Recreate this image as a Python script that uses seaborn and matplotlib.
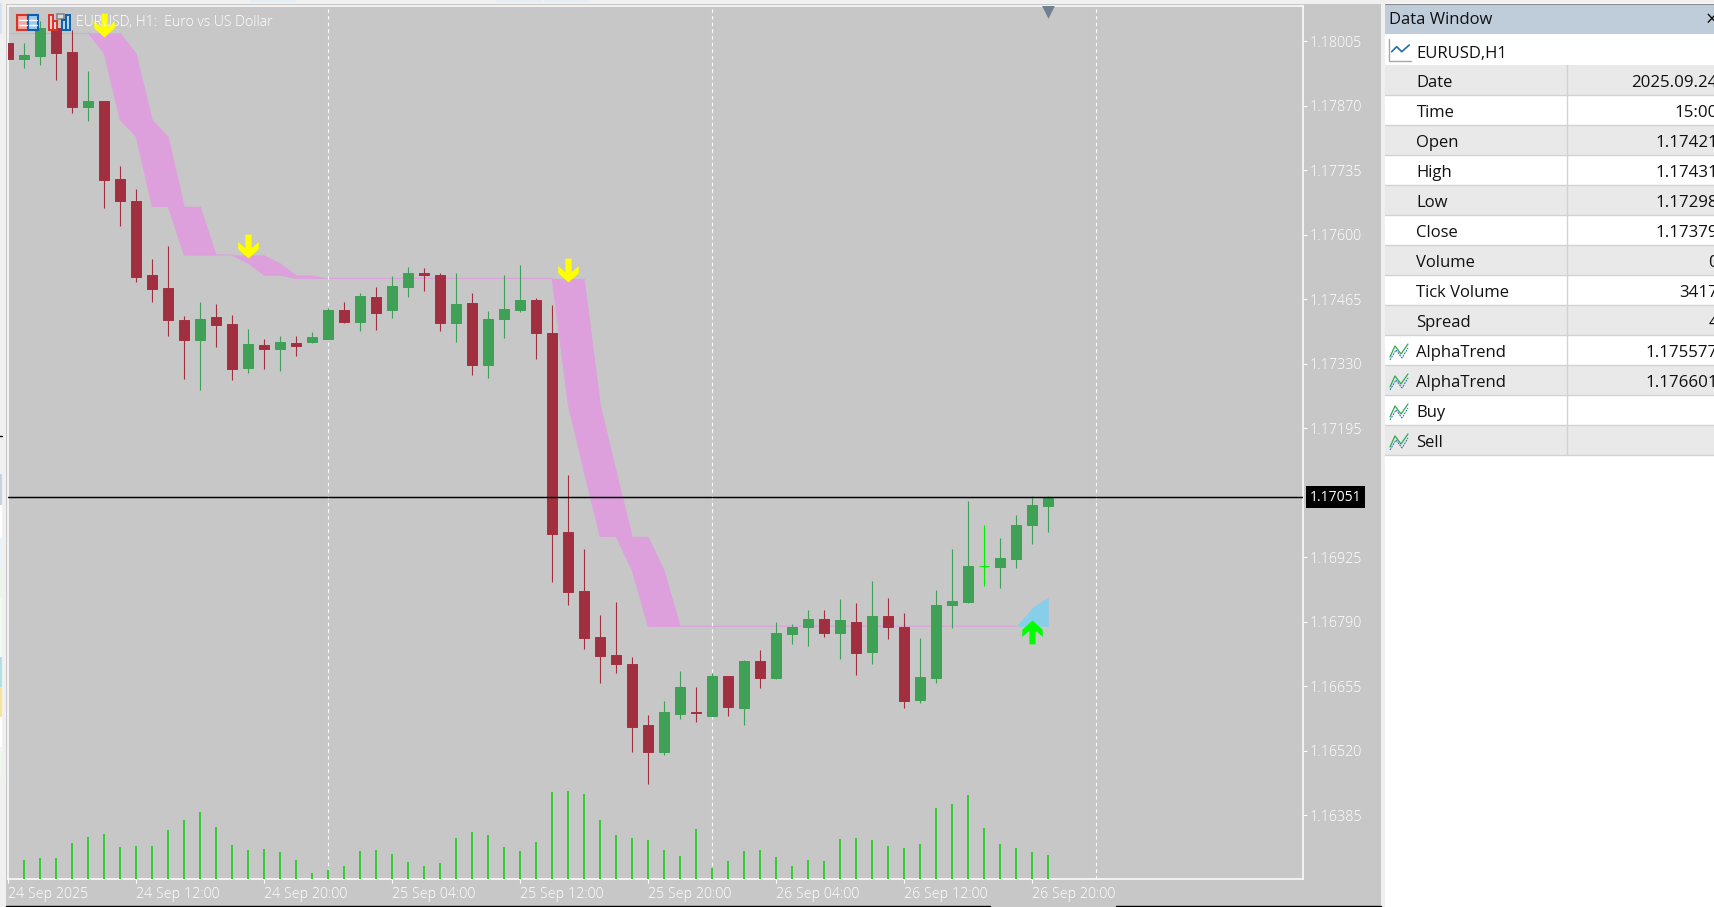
import matplotlib
matplotlib.use("Agg")
import numpy as np
import pandas as pd
import seaborn as sns
import matplotlib.pyplot as plt
from matplotlib.path import Path
from matplotlib.patches import Rectangle

# EURUSD H1 chart, bars from 24 Sep 04:00 to 26 Sep 21:00
open_prices = [1.18002, 1.17968, 1.17975, 1.18033, 1.17983, 1.17868, 1.17881, 1.17717, 1.17671, 1.17516,
               1.17489, 1.17421, 1.17380, 1.17428, 1.17414, 1.17322, 1.17370, 1.17362, 1.17374, 1.17376,
               1.17382, 1.17443, 1.17418, 1.17470, 1.17443, 1.17491, 1.17521, 1.17516, 1.17416, 1.17458,
               1.17328, 1.17424, 1.17443, 1.17464, 1.17395, 1.16978, 1.16855, 1.16758, 1.16721, 1.16702,
               1.16574, 1.16518, 1.16597, 1.16601, 1.16593, 1.16677, 1.16610, 1.16708, 1.16673, 1.16765,
               1.16779, 1.16796, 1.16767, 1.16790, 1.16727, 1.16802, 1.16779, 1.16627, 1.16673, 1.16825,
               1.16831, 1.16906, 1.16905, 1.16922, 1.16993, 1.17033]
high_prices = [1.18002, 1.18002, 1.18048, 1.18050, 1.18029, 1.17943, 1.17881, 1.17745, 1.17696, 1.17550,
               1.17577, 1.17431, 1.17460, 1.17456, 1.17433, 1.17403, 1.17382, 1.17389, 1.17389, 1.17397,
               1.17447, 1.17460, 1.17479, 1.17491, 1.17514, 1.17533, 1.17531, 1.17521, 1.17521, 1.17479,
               1.17441, 1.17516, 1.17537, 1.17468, 1.17453, 1.17097, 1.16943, 1.16805, 1.16832, 1.16716,
               1.16595, 1.16624, 1.16687, 1.16653, 1.16683, 1.16677, 1.16710, 1.16731, 1.16790, 1.16786,
               1.16815, 1.16815, 1.16838, 1.16830, 1.16875, 1.16840, 1.16809, 1.16757, 1.16857, 1.16943,
               1.17043, 1.16993, 1.16966, 1.17014, 1.17053, 1.17053]
low_prices = [1.17968, 1.17950, 1.17956, 1.17925, 1.17855, 1.17839, 1.17657, 1.17619, 1.17502, 1.17460,
              1.17389, 1.17298, 1.17276, 1.17366, 1.17297, 1.17311, 1.17320, 1.17315, 1.17347, 1.17374,
              1.17382, 1.17416, 1.17399, 1.17401, 1.17426, 1.17470, 1.17483, 1.17399, 1.17376, 1.17307,
              1.17301, 1.17385, 1.17439, 1.17341, 1.16873, 1.16825, 1.16734, 1.16663, 1.16683, 1.16518,
              1.16451, 1.16512, 1.16587, 1.16580, 1.16593, 1.16593, 1.16574, 1.16652, 1.16671, 1.16744,
              1.16739, 1.16758, 1.16712, 1.16679, 1.16702, 1.16754, 1.16610, 1.16621, 1.16663, 1.16778,
              1.16830, 1.16866, 1.16861, 1.16903, 1.16953, 1.16978]
close_prices = [1.17968, 1.17977, 1.18033, 1.17981, 1.17868, 1.17881, 1.17715, 1.17671, 1.17512, 1.17487,
                1.17422, 1.17379, 1.17424, 1.17412, 1.17320, 1.17372, 1.17362, 1.17376, 1.17368, 1.17387,
                1.17443, 1.17418, 1.17472, 1.17437, 1.17493, 1.17521, 1.17516, 1.17416, 1.17456, 1.17328,
                1.17424, 1.17445, 1.17464, 1.17395, 1.16974, 1.16852, 1.16757, 1.16719, 1.16702, 1.16570,
                1.16518, 1.16601, 1.16653, 1.16600, 1.16677, 1.16612, 1.16708, 1.16673, 1.16767, 1.16779,
                1.16796, 1.16767, 1.16794, 1.16725, 1.16802, 1.16779, 1.16624, 1.16675, 1.16825, 1.16834,
                1.16907, 1.16906, 1.16924, 1.16993, 1.17035, 1.17051]
tick_volume = [1100, 1216, 1216, 2085, 2432, 2606, 1853, 1911, 1911, 2837, 3417, 3879, 3011, 1969, 1679, 1737,
               1563, 1100, 347, 521, 753, 1621, 1679, 1448, 984, 753, 926, 2374, 2721, 2548, 1853, 1621,
               2142, 5037, 5095, 4922, 3417, 2548, 2374, 2258, 1679, 1332, 2895, 637, 1042, 1621, 1679, 1274,
               753, 1100, 1042, 2316, 2374, 2258, 1911, 1795, 2027, 4111, 4343, 4864, 2953, 2027, 1795, 1563,
               1390]
alpha_fast = [1.18023] * 6 + [1.17980, 1.17841, 1.17806, 1.17660, 1.17660, 1.17558, 1.17558, 1.17558, 1.17558,
               1.17541, 1.17516, 1.17516] + [1.17509] * 17 + [1.17246, 1.17105, 1.16969, 1.16969, 1.16898] \
               + [1.16781] * 24 + [1.16820, 1.16842]
alpha_slow = [1.18023] * 8 + [1.17980, 1.17841, 1.17806, 1.17660, 1.17660, 1.17558, 1.17558, 1.17558, 1.17558,
               1.17541, 1.17516, 1.17516] + [1.17509] * 17 + [1.17246, 1.17105, 1.16969, 1.16969, 1.16898] \
               + [1.16781] * 24
sell_bars = [6, 15, 35]
sell_prices = [1.18014, 1.17551, 1.17502]
buy_bars = [64]
buy_prices = [1.16794]
grid_bars = [20, 44, 68]
price_ticks = [1.16385, 1.16520, 1.16655, 1.16790, 1.16925, 1.17195, 1.17330, 1.17465, 1.17600, 1.17735, 1.17870, 1.18005]
time_ticks = [0, 8, 16, 24, 32, 40, 48, 56, 64]
time_labels = ["24 Sep 2025", "24 Sep 12:00", "24 Sep 20:00", "25 Sep 04:00", "25 Sep 12:00",
               "25 Sep 20:00", "26 Sep 04:00", "26 Sep 12:00", "26 Sep 20:00"]
last_price = 1.17051

# hovered bar in the data window
row_names = ["Date", "Time", "Open", "High", "Low", "Close", "Volume", "Tick Volume", "Spread",
             "AlphaTrend", "AlphaTrend", "Buy", "Sell"]
row_values = ["2025.09.24", "15:00", "1.17421", "1.17431", "1.17298", "1.17379", "0", "3417", "4",
              "1.175577", "1.176601", "", ""]

# tabs of the window cut off at the left edge: top, bottom, colour
left_tabs = [(474, 505, "#C5D3DF"), (505, 538, "#FFFFFF"), (538, 567, "#E8F2FC"), (567, 597, "#E8F5E8"),
             (597, 627, "#F1FAF1"), (627, 657, "#F3FAF3"), (657, 687, "#B0DFE8"), (687, 717, "#F5E595"),
             (717, 747, "#FFFFFF"), (747, 777, "#EEF8EE")]

W, H = 1714, 907
BG = "#C7C7C7"
RED = "#A22F40"
GREEN = "#3EA155"
LIME = "#00F000"
BASE_X = 8.2
TEXT = "#111111"

sns.set_theme(style="white", rc={"axes.linewidth": 1.1})
plt.rcParams["font.family"] = ["Open Sans", "DejaVu Sans"]

fig = plt.figure(figsize=(W / 100, H / 100), dpi=100, facecolor="#F0F0F0")

# full size pixel layer for the window around the chart
deco = fig.add_axes([0, 0, 1, 1], zorder=0)
deco.set_xlim(0, W)
deco.set_ylim(H, 0)
deco.axis("off")
deco.add_patch(Rectangle((6, 3.5), 1375, 903, fc=BG, ec="none"))
deco.plot([6, 990], [906, 906], color="black", lw=1)
deco.plot([1116, 1381], [906, 906], color="black", lw=1)
for x0, x1 in [(250, 295), (497, 542), (545, 589)]:
    deco.add_patch(Rectangle((x0, 0), x1 - x0, 1.5, fc="#E3EEF9", ec="none"))
deco.add_patch(Rectangle((0, 3), 2, 31, fc="#D5E3F0", ec="none"))
deco.plot([0, 2], [435.5, 435.5], color="black", lw=1)
for y0, y1, tab_color in left_tabs:
    deco.add_patch(Rectangle((0, y0), 2, y1 - y0, fc=tab_color, ec="none"))

deco.add_patch(Rectangle((1385, 3), 329, 904, fc="white", ec="none"))
deco.add_patch(Rectangle((1385, 4), 329, 30, fc="#BFCDDB", ec="none"))
deco.plot([1385, W], [3.5, 3.5], color="#8C8C8C", lw=0.8)
deco.text(1389, 20.5, "Data Window", fontsize=12, color=TEXT, va="center")
deco.text(1712, 20, "×", fontsize=15, color=TEXT, va="center", ha="center")
deco.text(1416.5, 54, "EURUSD,H1", fontsize=12, color=TEXT, va="center")
deco.plot([1389, 1389, 1411], [39, 61, 61], color="#A8A8A8", lw=1)
deco.plot([1391.7, 1396.7, 1401.7, 1409.3], [51.7, 46.7, 51.7, 45], color="#1F6FA8", lw=1.2)
for i, (name, value) in enumerate(zip(row_names, row_values)):
    top = 65 + i * 30
    if i % 2 == 0:
        deco.add_patch(Rectangle((1385, top), 329, 30, fc="#E9E9E9", ec="none"))
    deco.plot([1385, W], [top + 30, top + 30], color="#D2D2D2", lw=1)
    deco.text(1416.5, top + 18, name, fontsize=12, color=TEXT, va="center")
    deco.text(1718, top + 18, value, fontsize=12.2, color=TEXT, va="center", ha="right")
    if i >= 9:
        deco.plot([1390, 1395, 1401, 1408], [top + 22, top + 11, top + 19, top + 9], color="#2FA84F", lw=0.9)
        deco.plot([1390, 1396, 1402, 1408], [top + 25, top + 15, top + 23, top + 13], color="#1F6FA8", lw=0.7, ls=(0, (2, 1)))
deco.plot([1567, 1567], [65, 455], color="#D2D2D2", lw=1)

# chart area, same frame as the terminal window
ax = fig.add_axes([8.0 / W, (H - 879) / H, (1303 - 8.0) / W, (879 - 5.5) / H], zorder=1)
ax.set_facecolor(BG)
vol_ax = ax.twinx()
vol_ax.set_zorder(1)
vol_ax.patch.set_visible(False)

bars = np.arange(len(open_prices))
df = pd.DataFrame({"bar": bars, "open": open_prices, "high": high_prices, "low": low_prices, "close": close_prices})
df["color"] = np.where(df["close"] >= df["open"], GREEN, RED)
df.loc[df["open"].sub(df["close"]).abs() < 1e-5 / 2, "color"] = LIME

volume_df = pd.DataFrame({"bar": bars[1:], "volume": tick_volume})
sns.barplot(data=volume_df, x="bar", y="volume", native_scale=True, width=0.125, color="#32CD32",
            saturation=1, linewidth=0, ax=vol_ax, zorder=1)
vol_ax.set_ylim(0, 50570)
vol_ax.set_xlabel("")
vol_ax.set_ylabel("")
vol_ax.set_yticks([])
vol_ax.tick_params(labelbottom=False, bottom=False)
for s in vol_ax.spines.values():
    s.set_visible(False)

# AlphaTrend cloud between the two lines
fast = np.array(alpha_fast)
slow = np.array(alpha_slow)
ax.fill_between(bars, fast, slow, where=bars <= 63, color="#DDA0DD", lw=0, zorder=1)
ax.fill_between(bars, fast, slow, where=bars >= 63, color="#87CEEB", lw=0, zorder=1)
sns.lineplot(x=bars[:6], y=alpha_fast[:6], color="#87CEEB", lw=0.8, ax=ax, zorder=1)
sns.lineplot(x=bars[5:64], y=alpha_fast[5:64], color="#DDA0DD", lw=0.8, ax=ax, zorder=1)

for x in grid_bars:
    ax.axvline(x, color="white", lw=0.8, ls=(0, (3, 3)), zorder=2)

wicks = ax.vlines(df["bar"], df["low"], df["high"], colors=df["color"], lw=0.8, zorder=3)
wicks.set_snap(True)
ax.bar(df["bar"], (df["close"] - df["open"]).abs(), bottom=df[["open", "close"]].min(axis=1),
       width=10.2 / 16, color=df["color"], edgecolor=df["color"], lw=0.7, zorder=4)

ax.axhline(last_price, color="black", lw=1.05, zorder=5)

# signal arrows, path origin is the arrow tip
down_arrow = Path([(0, 0), (-0.43, 0.39), (-0.43, 0.69), (-0.13, 0.42), (-0.13, 1),
                   (0.13, 1), (0.13, 0.42), (0.43, 0.69), (0.43, 0.39), (0, 0)], closed=True)
up_arrow = Path([(x, -y) for x, y in down_arrow.vertices], closed=True)
sns.scatterplot(x=sell_bars, y=sell_prices, marker=down_arrow, s=1180, color="#FFFF00", linewidth=0, ax=ax, zorder=6)
sns.scatterplot(x=buy_bars, y=buy_prices, marker=up_arrow, s=1180, color="#00FF00", linewidth=0, ax=ax, zorder=6)

ax.set_xlim((8.0 - BASE_X) / 16, (1303 - BASE_X) / 16)
ax.set_ylim(1.16252, 1.18080)
vol_ax.set_xlim(ax.get_xlim())
ax.set_xlabel("")
ax.set_ylabel("")
ax.set_xticks(time_ticks)
ax.set_xticklabels(time_labels, ha="left", color="white", fontsize=10.25, fontweight="light")
ax.set_yticks(price_ticks)
ax.set_yticklabels([f"{p:.5f}" for p in price_ticks], color="white", fontsize=10.25, fontweight="light")
ax.yaxis.tick_right()
ax.tick_params(axis="both", colors="white", length=3, width=0.8, left=False, bottom=True, right=True)
ax.tick_params(axis="x", pad=3)
ax.tick_params(axis="y", pad=1.5)
for s in ax.spines.values():
    s.set_color("white")
    s.set_linewidth(1.1)

# current price label
ax.text(1.00510, last_price, f"{last_price:.5f}", transform=ax.get_yaxis_transform(), color="white", fontsize=10,
        va="center", ha="left", zorder=7, clip_on=False,
        bbox=dict(boxstyle="square,pad=0.26", fc="black", ec="none"))

# shift marker at the top of the chart
ax.scatter([65], [1.18068], marker="v", s=110, color="#708090", linewidth=0, zorder=7)

# title and the two toolbar icons
over = fig.add_axes([0, 0, 1, 1], zorder=5)
over.set_xlim(0, W)
over.set_ylim(H, 0)
over.axis("off")
over.patch.set_visible(False)
over.add_patch(Rectangle((17, 14.5), 11, 15, fc="#F3A9A3", ec="#D9342B", lw=1.5))
over.add_patch(Rectangle((28, 14.5), 10, 15, fc="#9CCBEE", ec="#0F5FA8", lw=1.5))
for yy in (19.5, 24.5):
    over.plot([19, 27], [yy, yy], color="white", lw=1)
    over.plot([29, 37], [yy, yy], color="white", lw=1)
over.add_patch(Rectangle((49.5, 15), 4, 14.5, fc="#F9CFCB", ec="#D9342B", lw=1.4))
over.add_patch(Rectangle((53.5, 21), 4, 8.5, fc="#F9CFCB", ec="#D9342B", lw=1.4))
over.add_patch(Rectangle((57, 14), 7, 5, fc="#D8D8D8", ec="#888888", lw=1.2))
over.add_patch(Rectangle((62, 20), 4, 9.5, fc="#A9D8FA", ec="#0F5FA8", lw=1.4))
over.add_patch(Rectangle((66, 15), 4.5, 14.5, fc="#A9D8FA", ec="#0F5FA8", lw=1.4))
fig.text(76.5 / W, 1 - 22.5 / H, "EURUSD, H1:  Euro vs US Dollar", color="white", fontsize=10.1, fontweight="light",
         va="center", zorder=4)

fig.savefig("out.png", dpi=100, facecolor=fig.get_facecolor())
